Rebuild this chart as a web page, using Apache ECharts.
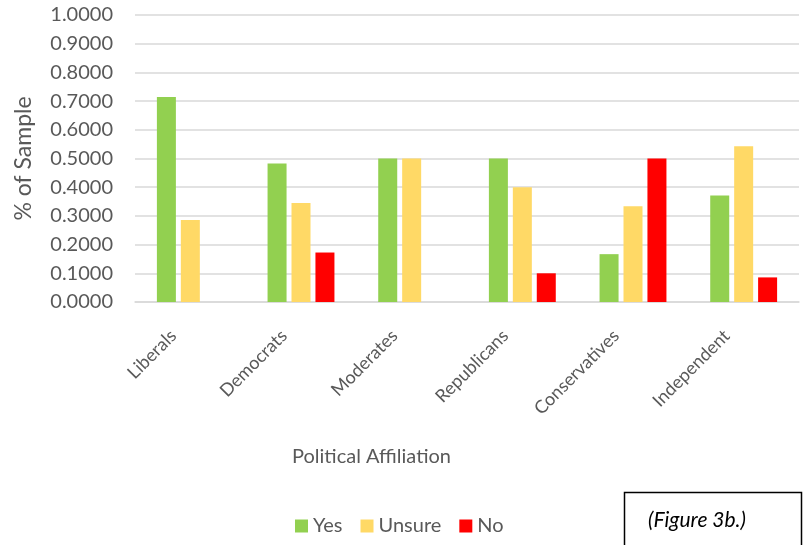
<!DOCTYPE html>
<html><head><meta charset="utf-8">
<script src="https://cdn.jsdelivr.net/npm/echarts@6/dist/echarts.min.js"></script>
<style>html,body{margin:0;padding:0;background:#fff}#c{width:804px;height:545px}</style>
</head><body><div id="c"></div>
<script>
const categories = ['Liberals','Democrats','Moderates','Republicans','Conservatives','Independent'];
const yesValues = [0.7143, 0.4828, 0.5, 0.5, 0.1667, 0.3714];
const unsureValues = [0.2857, 0.3448, 0.5, 0.4, 0.3333, 0.5429];
const noValues = [0, 0.1724, 0, 0.1, 0.5, 0.0857];
const seriesNames = ['Yes','Unsure','No'];
const colors = ['#92d050','#ffd966','#ff0000'];
const FONT = 'Lato';
const chart = echarts.init(document.getElementById('c'), null, {renderer:'canvas'});
const mk = (name, data, color) => ({
  name, type:'bar', data, barWidth:19, barGap:'26%',
  itemStyle:{color}
});
chart.setOption({
  animation:false,
  textStyle:{fontFamily:FONT},
  grid:{left:135, right:5, top:15, bottom:243, containLabel:false},
  legend:{
    data:seriesNames, bottom:4, left:290, itemWidth:13, itemHeight:13, itemGap:18,
    textStyle:{fontFamily:FONT, fontSize:20, color:'#595959'},
    icon:'rect'
  },
  xAxis:{
    type:'category', data:categories,
    axisLine:{lineStyle:{color:'#d9d9d9', width:1.5}},
    axisTick:{show:false},
    axisLabel:{rotate:45, fontFamily:FONT, fontSize:18, color:'#595959', margin:14, interval:0, padding:[0,24,0,0]}
  },
  yAxis:{
    type:'value', min:0, max:1, interval:0.1,
    name:'% of Sample', nameLocation:'middle', nameGap:100, nameRotate:90,
    nameTextStyle:{fontFamily:FONT, fontSize:23, color:'#595959'},
    axisLine:{show:false}, axisTick:{show:false},
    splitLine:{lineStyle:{color:'#d9d9d9', width:1.5}},
    axisLabel:{formatter:v=>v.toFixed(4), fontFamily:FONT, fontSize:20, color:'#595959', margin:22}
  },
  graphic:[
    {type:'text', left:292, top:447, style:{text:'Political Affiliation', font:'20px '+FONT, fill:'#595959'}},
    {type:'rect', shape:{x:624.5, y:492.5, width:177, height:60}, style:{fill:'#fff', stroke:'#000', lineWidth:1.5}},
    {type:'text', x:697, y:520, style:{text:'(Figure 3b.)', font:'italic 21px '+FONT, fill:'#000', textAlign:'center', textVerticalAlign:'middle'}}
  ],
  series:[
    mk(seriesNames[0], yesValues, colors[0]),
    mk(seriesNames[1], unsureValues, colors[1]),
    mk(seriesNames[2], noValues, colors[2])
  ]
});
</script></body></html>
